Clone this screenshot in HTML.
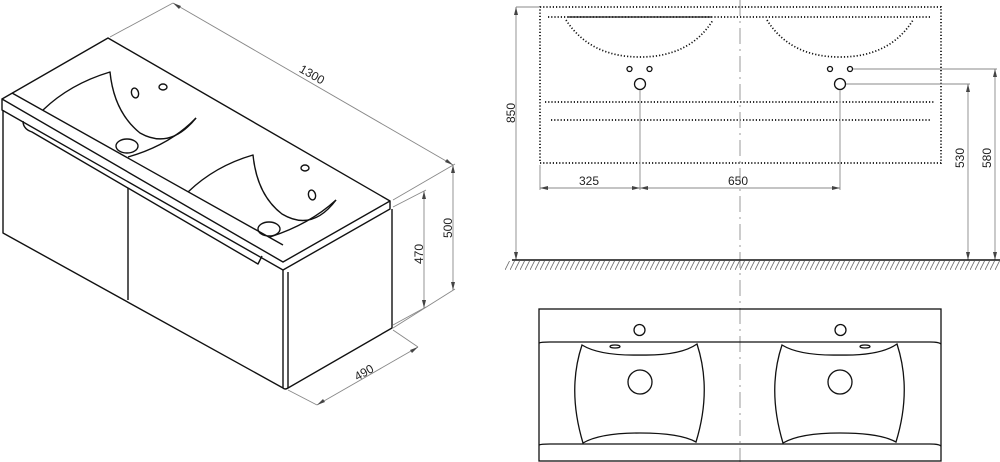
<!DOCTYPE html>
<html><head><meta charset="utf-8"><style>
html,body{margin:0;padding:0;background:#fff;}
svg{display:block;}
text{font-family:"Liberation Sans",sans-serif;font-size:12px;fill:#222;}
</style></head><body>
<svg width="1000" height="462" viewBox="0 0 1000 462" xmlns="http://www.w3.org/2000/svg">
<defs>
<pattern id="h" width="5" height="10" patternUnits="userSpaceOnUse">
<line x1="0" y1="10" x2="5" y2="0" stroke="#666" stroke-width="0.8"/>
</pattern>
</defs>
<!-- ISO VIEW -->
<g fill="none" stroke="#111" stroke-width="1.4" stroke-linejoin="round">
<path d="M2,99 L108,38 L390,201"/>
<path d="M12,93 L283,245"/>
<path d="M2,99 L283,262 L390,201 L390,209 L283,270 L2,110 Z"/>
<path d="M3,110 L3,233 L283,388"/>
<path d="M283,270 L283,388 Q285,390 288,388 L392,328 L392,209"/>
<path d="M288,272 L288,388"/>
<path d="M128,188 L128,300"/>
<path d="M23,121 Q23,129 32,132 L258,264 L262,256"/>
<path d="M43,110 Q70,84 110,72 Q114,112 140,133 Q170,150 196,118"/>
<path d="M196,118 Q170,145 128,157"/>
<ellipse cx="127" cy="146" rx="11" ry="7"/>
<ellipse cx="135" cy="93" rx="3.5" ry="5" transform="rotate(-15 135 93)"/>
<ellipse cx="163" cy="87" rx="4" ry="3"/>
<path d="M188,192 Q215,166 253,155 Q257,195 282,214 Q312,232 336,200"/>
<path d="M336,200 Q310,224 270,237"/>
<ellipse cx="269" cy="229" rx="11" ry="7"/>
<ellipse cx="312" cy="195" rx="3.5" ry="5" transform="rotate(-15 312 195)"/>
<ellipse cx="305" cy="168" rx="4" ry="3"/>
</g>
<g stroke="#888" stroke-width="0.9" fill="none">
<path d="M110,37 L173,3"/>
<path d="M173,3 L453,165"/>
<path d="M393,200 L455,164"/>
<path d="M453,165 L453,290"/>
<path d="M393,328 L455,289"/>
<path d="M393,207 L426,190"/>
<path d="M424,191 L424,308"/>
<path d="M393,325 L426,307"/>
<path d="M393,330 L418,347"/>
<path d="M288,390 L317,405"/>
<path d="M317,405 L418,347"/>
</g>
<g fill="#444">
<path d="M173,3 l8,3 l-2,3 z"/><path d="M453,165 l-8,-3 l2,-3 z"/>
<path d="M453,165 l-2,8 l4,0 z"/><path d="M453,290 l-2,-8 l4,0 z"/>
<path d="M424,191 l-2,8 l4,0 z"/><path d="M424,308 l-2,-8 l4,0 z"/>
<path d="M317,405 l6,-6 l2,3 z"/><path d="M418,347 l-6,6 l-2,-3 z"/>
</g>
<text x="310" y="78" transform="rotate(30 310 78)" text-anchor="middle">1300</text>
<text x="0" y="0" transform="translate(452,228) rotate(-90)" text-anchor="middle">500</text>
<text x="0" y="0" transform="translate(423,254) rotate(-90)" text-anchor="middle">470</text>
<text x="366" y="376" transform="rotate(-30 366 376)" text-anchor="middle">490</text>

<!-- FRONT VIEW -->
<g fill="none" stroke="#111" stroke-width="1.7" stroke-dasharray="1.2 2">
<path d="M540,7 L941,7 L941,163 L540,163 Z"/>
<path d="M548,17 L932,17"/>
<path d="M566,20 Q590,57 640,57 Q690,57 713,20"/>
<path d="M767,20 Q790,57 840,57 Q890,57 913,20"/>
<path d="M545,102 L935,102"/>
<path d="M551,120 L930,120"/>
</g>
<path d="M568,17 L712,17" stroke="#222" stroke-width="1.2"/>
<g fill="none" stroke="#111" stroke-width="1.3">
<circle cx="629.5" cy="69" r="2.5"/><circle cx="649.5" cy="69" r="2.5"/>
<circle cx="830" cy="69" r="2.5"/><circle cx="850" cy="69" r="2.5"/>
<circle cx="640" cy="84" r="5.5"/><circle cx="840" cy="84" r="5.5"/>
</g>
<path d="M740,0 L740,462" stroke="#aaa" stroke-width="1.2" stroke-dasharray="16 5 2 5"/>
<g stroke="#888" stroke-width="0.9" fill="none">
<path d="M516,7 L540,7"/><path d="M516,7 L516,260"/>
<path d="M540,165 L540,190"/>
<path d="M640,90 L640,190"/><path d="M840,90 L840,190"/>
<path d="M540,188 L840,188"/>
<path d="M846,84 L970,84"/><path d="M968,84 L968,260"/>
<path d="M853,69 L997,69"/><path d="M995,69 L995,260"/>
</g>
<g fill="#444">
<path d="M516,7 l-2,8 l4,0 z"/><path d="M516,260 l-2,-8 l4,0 z"/>
<path d="M540,188 l8,-2 l0,4 z"/><path d="M640,188 l-8,-2 l0,4 z"/>
<path d="M640,188 l8,-2 l0,4 z"/><path d="M840,188 l-8,-2 l0,4 z"/>
<path d="M968,84 l-2,8 l4,0 z"/><path d="M968,260 l-2,-8 l4,0 z"/>
<path d="M995,69 l-2,8 l4,0 z"/><path d="M995,260 l-2,-8 l4,0 z"/>
</g>
<text x="589" y="185" text-anchor="middle">325</text>
<text x="738" y="185" text-anchor="middle">650</text>
<text x="0" y="0" transform="translate(515,113) rotate(-90)" text-anchor="middle">850</text>
<text x="0" y="0" transform="translate(964,158) rotate(-90)" text-anchor="middle">530</text>
<text x="0" y="0" transform="translate(991,158) rotate(-90)" text-anchor="middle">580</text>
<rect x="505" y="261" width="495" height="9" fill="url(#h)"/>
<path d="M512,260 L1000,260" stroke="#111" stroke-width="1.5"/>

<!-- TOP VIEW -->
<g fill="none" stroke="#111" stroke-width="1.3">
<rect x="539" y="309" width="402" height="152"/>
<path d="M539,343 Q541,342 550,342 L930,342 Q939,342 941,344"/>
<path d="M539,445 Q541,444 550,444 L930,444 Q939,444 941,446"/>
<circle cx="639.5" cy="330" r="5.5"/><circle cx="840.5" cy="330" r="5.5"/>
<path d="M582,345 Q600,356 640,355 Q680,356 697,344 Q712,390 696,442 Q680,433 640,433 Q600,433 583,443 Q567,390 582,345 Z"/>
<path d="M782,345 Q800,356 840,355 Q880,356 897,344 Q912,390 896,442 Q880,433 840,433 Q800,433 783,443 Q767,390 782,345 Z"/>
<circle cx="640" cy="382" r="12"/><circle cx="840" cy="382" r="12"/>
<ellipse cx="615" cy="346.5" rx="5" ry="1.5"/><ellipse cx="865" cy="346.5" rx="5" ry="1.5"/>
</g>
</svg>
</body></html>
